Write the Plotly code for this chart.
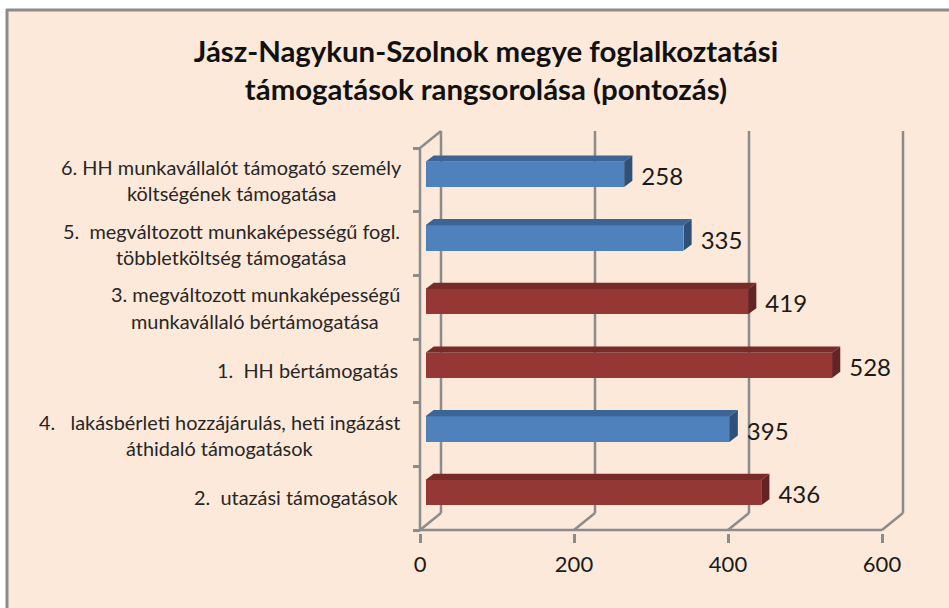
import plotly.graph_objects as go

categories = [
    ["2.  utazási támogatások"],
    ["4.   lakásbérleti hozzájárulás, heti ingázást", "áthidaló támogatások"],
    ["1.  HH bértámogatás"],
    ["3. megváltozott munkaképességű", "munkavállaló bértámogatása"],
    ["5.  megváltozott munkaképességű fogl.", "többletköltség támogatása"],
    ["6. HH munkavállalót támogató személy", "költségének támogatása"],
]
values = [436, 395, 528, 419, 335, 258]
group = ["red", "blue", "red", "red", "blue", "blue"]
x_ticks = [0, 200, 400, 600]
title = "Jász-Nagykun-Szolnok megye foglalkoztatási<br>támogatások rangsorolása (pontozás)"

W, H = 949, 608
X0, X1, Y_TOP, Y_BOT = 420, 882, 148, 530
PX_X = (X1 - X0) / 600
PX_Y = (Y_BOT - Y_TOP) / 6
FONT = "Lato, Carlito, Calibri, sans-serif"
GRID = "#8C8C8C"
BG = "#FDE9D9"
FRONT = {"blue": "#4F81BD", "red": "#953735"}
TOP = {"blue": "#3C6494", "red": "#772C2A"}
SIDE = {"blue": "#2F5078", "red": "#632423"}

WALL_PX_X, WALL_PX_Y, PAD = 21, 17, 3
wall_dx, wall_dy = WALL_PX_X / PX_X, WALL_PX_Y / PX_Y
bar_dx, bar_dy = 8.2 / PX_X, 6.2 / PX_Y
bar_base = 5.5 / PX_X
bar_h = 25.4 / PX_Y
bar_lift = 5.5 / PX_Y
idx = list(range(len(values)))
ycent = [i + 0.5 + bar_lift for i in idx]

fig = go.Figure()
fig.add_trace(go.Bar(
    orientation="h", x=values, y=ycent, base=[bar_base] * len(values), width=bar_h,
    marker=dict(color=[FRONT[g] for g in group], line=dict(width=0)),
    hoverinfo="skip", showlegend=False))

for v, yc, g in zip(values, ycent, group):
    xa, xb = bar_base, bar_base + v
    ya, yb = yc - bar_h / 2, yc + bar_h / 2
    fig.add_trace(go.Scatter(
        x=[xa, xa + bar_dx, xb + bar_dx, xb, xa], y=[yb, yb + bar_dy, yb + bar_dy, yb, yb],
        mode="lines", fill="toself", fillcolor=TOP[g], line=dict(width=0),
        hoverinfo="skip", showlegend=False))
    fig.add_trace(go.Scatter(
        x=[xb, xb + bar_dx, xb + bar_dx, xb, xb], y=[ya, ya + bar_dy, yb + bar_dy, yb, ya],
        mode="lines", fill="toself", fillcolor=SIDE[g], line=dict(width=0),
        hoverinfo="skip", showlegend=False))

fig.add_trace(go.Scatter(
    x=[bar_base + v + bar_dx + 9 / PX_X for v in values],
    y=[yc - 4.6 / PX_Y for yc in ycent],
    mode="text", text=[str(v) for v in values], textposition="middle right",
    textfont=dict(family=FONT, size=24, color="#1a1a1a"), cliponaxis=False,
    hoverinfo="skip", showlegend=False))

line = dict(color=GRID, width=2.5)
shapes = [
    dict(type="rect", xref="paper", yref="paper", x0=7 / W, x1=1, y0=0, y1=1 - 10 / H,
         fillcolor=BG, line=dict(width=0), layer="below"),
    dict(type="line", xref="paper", yref="paper", x0=7 / W, x1=7 / W, y0=0, y1=1 - 9 / H,
         line=dict(color="#8C8C8C", width=3), layer="below"),
    dict(type="line", xref="paper", yref="paper", x0=6 / W, x1=1, y0=1 - 10 / H, y1=1 - 10 / H,
         line=dict(color="#8C8C8C", width=3), layer="below"),
    dict(type="line", xref="x", yref="y", x0=0, x1=600, y0=0, y1=0, line=line, layer="below"),
    dict(type="line", xref="x", yref="y", x0=0, x1=0, y0=0, y1=6, line=line, layer="below"),
    dict(type="line", xref="x", yref="y", x0=0, x1=wall_dx, y0=6, y1=6 + wall_dy, line=line, layer="below"),
]
for t in x_ticks:
    shapes.append(dict(type="line", xref="x", yref="y", x0=t + wall_dx, x1=t + wall_dx,
                       y0=wall_dy, y1=6 + wall_dy, line=line, layer="below"))
    shapes.append(dict(type="line", xref="x", yref="y", x0=t, x1=t + wall_dx,
                       y0=0, y1=wall_dy, line=line, layer="below"))

annotations = []
LINE_CENTERS = {1: 219, 3: 255, 4: 231, 5: 231}
px2x = lambda px: (px - X0) / PX_X
for i, lines in zip(idx, categories):
    if len(lines) == 1:
        annotations.append(dict(
            xref="x", yref="y", x=px2x(400), y=i + 0.5, yshift=1, text=lines[0],
            xanchor="right", yanchor="middle", showarrow=False,
            font=dict(family=FONT, size=19.9, color="#262626")))
    else:
        for ln, shift in zip(lines, (13, -13.5)):
            annotations.append(dict(
                xref="x", yref="y", x=px2x(LINE_CENTERS[i]), y=i + 0.5, yshift=shift, text=ln,
                xanchor="center", yanchor="middle", showarrow=False,
                font=dict(family=FONT, size=19.9, color="#262626")))

fig.update_layout(
    width=W, height=H, margin=dict(l=0, r=0, t=0, b=0), autosize=False,
    paper_bgcolor="white", plot_bgcolor="rgba(0,0,0,0)", showlegend=False,
    bargap=0, shapes=shapes, annotations=annotations,
    title=dict(text=f"<b>{title}</b>", x=486 / W, xanchor="center", y=1 - 62 / H, yanchor="middle",
               font=dict(family=FONT, size=29.4, color="#111111")),
    xaxis=dict(domain=[0, (X1 + WALL_PX_X + PAD) / W],
               range=[px2x(0), 600 + wall_dx + PAD / PX_X], tickvals=x_ticks, ticks="outside",
               ticklen=9, tickwidth=2.5, tickcolor=GRID, showline=False, showgrid=False,
               zeroline=False, ticklabelstandoff=3,
               tickfont=dict(family=FONT, size=22, color="#1a1a1a")),
    yaxis=dict(domain=[1 - (Y_BOT + PAD) / H, 1 - (Y_TOP - WALL_PX_Y - PAD) / H], anchor="free", position=X0 / W,
               range=[-PAD / PX_Y, 6 + wall_dy + PAD / PX_Y], tickvals=list(range(7)),
               ticktext=[""] * 7, ticks="outside", ticklen=7, tickwidth=2.5, tickcolor=GRID,
               showline=False, showgrid=False, zeroline=False),
)
fig.write_html("out.html", config={"responsive": False, "displayModeBar": False},
               default_width="949px", default_height="608px",
               post_script="document.body.style.margin='0';document.documentElement.style.overflow='hidden';")
